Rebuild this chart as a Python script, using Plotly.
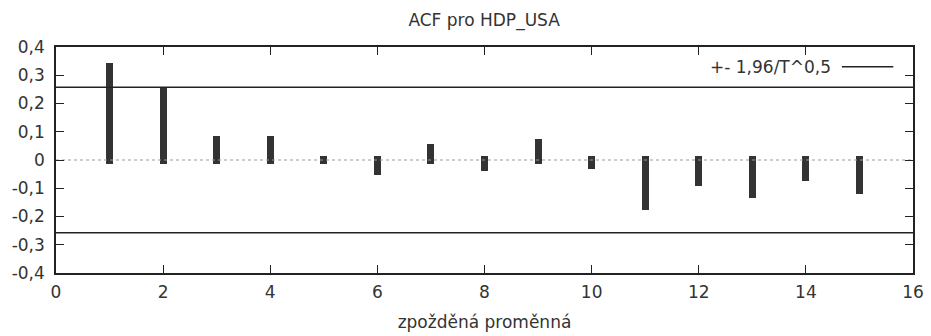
import math
import plotly.graph_objects as go

# Data
lags = list(range(1, 16))
acf_values = [0.330, 0.243, 0.072, 0.072, 0.001, -0.040, 0.045, -0.025, 0.060,
              -0.019, -0.164, -0.078, -0.120, -0.061, -0.108]
T_obs = 58
x_ticks = [0, 2, 4, 6, 8, 10, 12, 14, 16]
y_ticks = [-0.4, -0.3, -0.2, -0.1, 0, 0.1, 0.2, 0.3, 0.4]
y_tick_labels = ["-0,4", "-0,3", "-0,2", "-0,1", "0", "0,1", "0,2", "0,3", "0,4"]
title_text = "ACF pro HDP_USA"
x_title = "zpožděná proměnná"
legend_text = "+- 1,96/T^0,5"

bound = 1.96 / math.sqrt(T_obs)

FONT = "DejaVu Sans, Verdana, sans-serif"
FS = 17
TXT = "#333333"
EXT = 0.013  # visual cap extension of impulse bars

fig = go.Figure()

# zero dotted line
fig.add_trace(go.Scatter(x=[x_ticks[0], x_ticks[-1]], y=[0, 0], mode="lines",
                         line=dict(color="#999999", width=1, dash="dot"),
                         showlegend=False, hoverinfo="skip"))

# impulses
bases = [(-EXT if v >= 0 else EXT) for v in acf_values]
heights = [(v + EXT if v >= 0 else v - EXT) - b for v, b in zip(acf_values, bases)]
fig.add_trace(go.Bar(x=lags, y=heights, base=bases, width=0.13,
                     marker=dict(color="#333333", line=dict(width=0)),
                     showlegend=False))

# confidence bounds
for s in (1, -1):
    fig.add_trace(go.Scatter(x=[x_ticks[0], x_ticks[-1]], y=[s * bound, s * bound],
                             mode="lines", line=dict(color="#222222", width=1.5),
                             showlegend=False, hoverinfo="skip"))

# legend (text + line sample)
fig.add_annotation(x=0.907, y=0.913, xref="paper", yref="paper", text=legend_text,
                   showarrow=False, xanchor="right", yanchor="middle",
                   font=dict(family=FONT, size=FS, color=TXT))
fig.add_shape(type="line", xref="paper", yref="paper", x0=0.917, x1=0.977,
              y0=0.913, y1=0.913, line=dict(color="#222222", width=1.5))

axis_common = dict(showline=True, linecolor="#222222", linewidth=1.5, mirror="ticks",
                   ticks="inside", ticklen=8, tickwidth=1.2, tickcolor="#222222",
                   showgrid=False, zeroline=False, automargin=False,
                   tickfont=dict(family=FONT, size=FS, color=TXT))

fig.update_layout(
    width=931, height=336,
    margin=dict(l=56, r=18, t=47, b=63),
    paper_bgcolor="white", plot_bgcolor="white",
    title=dict(text=title_text, x=0.52, xanchor="center", y=0.94, yanchor="middle",
               automargin=False, font=dict(family=FONT, size=FS, color=TXT)),
    xaxis=dict(range=[0, 16], tickvals=x_ticks, ticklabelstandoff=3,
               title=dict(text=x_title, standoff=15,
                          font=dict(family=FONT, size=FS, color=TXT)), **axis_common),
    yaxis=dict(range=[-0.4, 0.4], tickvals=y_ticks, ticktext=y_tick_labels,
               ticklabelstandoff=6, **axis_common),
    bargap=0,
)

fig.write_html("out.html")
